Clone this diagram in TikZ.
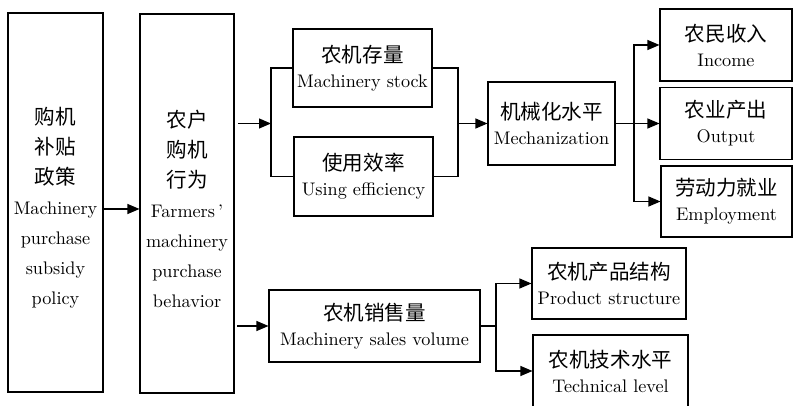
\documentclass[tikz,border=0pt]{standalone}
\usepackage{fontspec}
\setmainfont{lmroman10-regular}[Extension=.otf]
\newfontfamily\cjk[Scale=1.13]{Noto Sans CJK SC}
\usetikzlibrary{arrows.meta}
\begin{document}
\begin{tikzpicture}[x=1pt,y=-1pt,line width=1.1pt,
  box/.style={draw,inner sep=0pt,align=center,font=\fontsize{18.2}{25}\selectfont},
  tall/.style={inner sep=0pt,align=center,font=\fontsize{18.2}{30}\selectfont},
  arr/.style={-{Triangle[length=12pt,width=10pt]}}]
\useasboundingbox (0,0) rectangle (793,406);
\clip (0,0) rectangle (793,406);
% left columns
\node[draw,minimum width=95pt,minimum height=379pt] (b1) at (55.5,202.5) {};
\node[tall] (b1t) at (55.5,208)
  {{\cjk 购机}\\{\cjk 补贴}\\{\cjk 政策}\\Machinery\\purchase\\subsidy\\policy};
\node[draw,minimum width=94pt,minimum height=379pt] (b2) at (187,203.5) {};
\node[tall] (b2t) at (187,209)
  {{\cjk 农户}\\{\cjk 购机}\\{\cjk 行为}\\Farmers\hspace{3pt}’\\machinery\\purchase\\behavior};
% upper branch
\node[box,minimum width=139pt,minimum height=78pt] (stock) at (362.5,68)
  {{\cjk 农机存量}\\Machinery stock};
\node[box,minimum width=139pt,minimum height=79pt] (usage) at (363.5,176.5)
  {{\cjk 使用效率}\\Using efficiency};
\node[box,minimum width=127pt,minimum height=83pt] (mech) at (551.5,123.5)
  {{\cjk 机械化水平}\\Mechanization};
\node[box,minimum width=132pt,minimum height=72pt] (income) at (726,45)
  {{\cjk 农民收入}\\Income};
\node[box,minimum width=132pt,minimum height=72pt] (output) at (726,123.5)
  {{\cjk 农业产出}\\Output};
\node[box,minimum width=131pt,minimum height=71pt] (employ) at (726.5,201.5)
  {{\cjk 劳动力就业}\\Employment};
% lower branch
\node[box,minimum width=211pt,minimum height=72pt] (sales) at (374.5,326)
  {{\cjk 农机销售量}\\Machinery sales volume};
\node[box,minimum width=154pt,minimum height=71pt] (product) at (609,283.5)
  {{\cjk 农机产品结构}\\Product structure};
\node[box,minimum width=155pt,minimum height=72pt] (tech) at (610.5,371)
  {{\cjk 农机技术水平}\\Technical level};
% connector coordinates
\coordinate (y1) at (0,209);
\coordinate (t0) at (238,123.5);
\coordinate (jL) at (271,123.5);
\coordinate (jR) at (458,123.5);
\coordinate (jM) at (634,123.5);
\coordinate (s0) at (237,326);
\coordinate (jS) at (496,326);
% connectors
\draw[arr] (b1.east |- y1) -- (b2.west |- y1);
\draw[arr] (t0) -- (jL);
\draw (stock.west) -| (jL) |- (usage.west);
\draw (stock.east) -| (jR) |- (usage.east);
\draw[arr] (jR) -- (mech.west);
\draw[arr] (mech.east) -- (output.west);
\draw[arr] (jM) |- (income.west);
\draw[arr] (jM) |- (employ.west);
\draw[arr] (s0) -- (sales.west);
\draw (sales.east) -- (jS);
\draw[arr] (jS) |- (product.west);
\draw[arr] (jS) |- (tech.west);
\end{tikzpicture}
\end{document}
